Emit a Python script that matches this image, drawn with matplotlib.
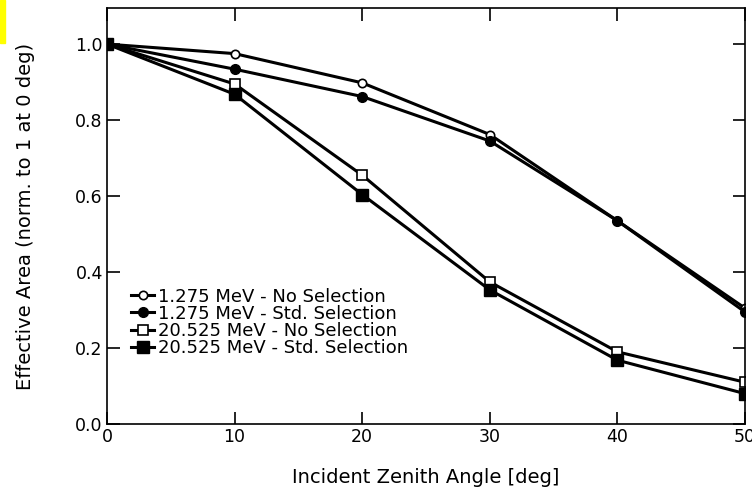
import matplotlib
matplotlib.use('Agg')
import matplotlib.pyplot as plt
import matplotlib.patches as mpatches

plt.rcParams['font.family'] = ['DejaVu Sans']

angles = [0, 10, 20, 30, 40, 50]
low_no_sel = [1.0, 0.975, 0.898, 0.762, 0.535, 0.305]
low_std_sel = [1.0, 0.934, 0.862, 0.745, 0.535, 0.295]
high_no_sel = [1.0, 0.895, 0.655, 0.374, 0.19, 0.11]
high_std_sel = [1.0, 0.868, 0.604, 0.353, 0.168, 0.08]

labels = ['1.275 MeV - No Selection', '1.275 MeV - Std. Selection',
          '20.525 MeV - No Selection', '20.525 MeV - Std. Selection']

fig = plt.figure(figsize=(7.52, 4.95), dpi=100)
fig.patches.append(mpatches.Rectangle((0, 1 - 43/495), 5/752, 43/495,
                                      transform=fig.transFigure, color='yellow', zorder=0))
ax = fig.add_axes([0.1423, 0.1434, 0.8484, 0.8404])

ax.plot(angles, low_no_sel, color='black', lw=2.2, marker='o', ms=6,
        mfc='white', mec='black', mew=1.2, label=labels[0])
ax.plot(angles, low_std_sel, color='black', lw=2.2, marker='o', ms=7,
        mfc='black', mec='black', label=labels[1])
ax.plot(angles, high_no_sel, color='black', lw=2.2, marker='s', ms=7,
        mfc='white', mec='black', mew=1.2, label=labels[2])
ax.plot(angles, high_std_sel, color='black', lw=2.2, marker='s', ms=8,
        mfc='black', mec='black', label=labels[3])

ax.set_xlim(0, 50)
ax.set_ylim(0, 1.095)
ax.set_xticks([0, 10, 20, 30, 40, 50])
ax.set_yticks([0.0, 0.2, 0.4, 0.6, 0.8, 1.0])
ax.set_yticklabels(['0.0', '0.2', '0.4', '0.6', '0.8', '1.0'])
ax.tick_params(direction='in', length=9, width=1.2, top=True, right=True,
               labelsize=12.5, pad=3)
for s in ax.spines.values():
    s.set_linewidth(1.2)

ax.set_xlabel('Incident Zenith Angle [deg]', fontsize=14, labelpad=16)
ax.set_ylabel('Effective Area (norm. to 1 at 0 deg)', fontsize=14, labelpad=29)

ax.legend(loc='upper left', bbox_to_anchor=(0.026, 0.345), frameon=False,
          fontsize=13, handlelength=1.3, handletextpad=0.2, labelspacing=-0.05,
          borderaxespad=0)

fig.savefig('out.png', dpi=100)
